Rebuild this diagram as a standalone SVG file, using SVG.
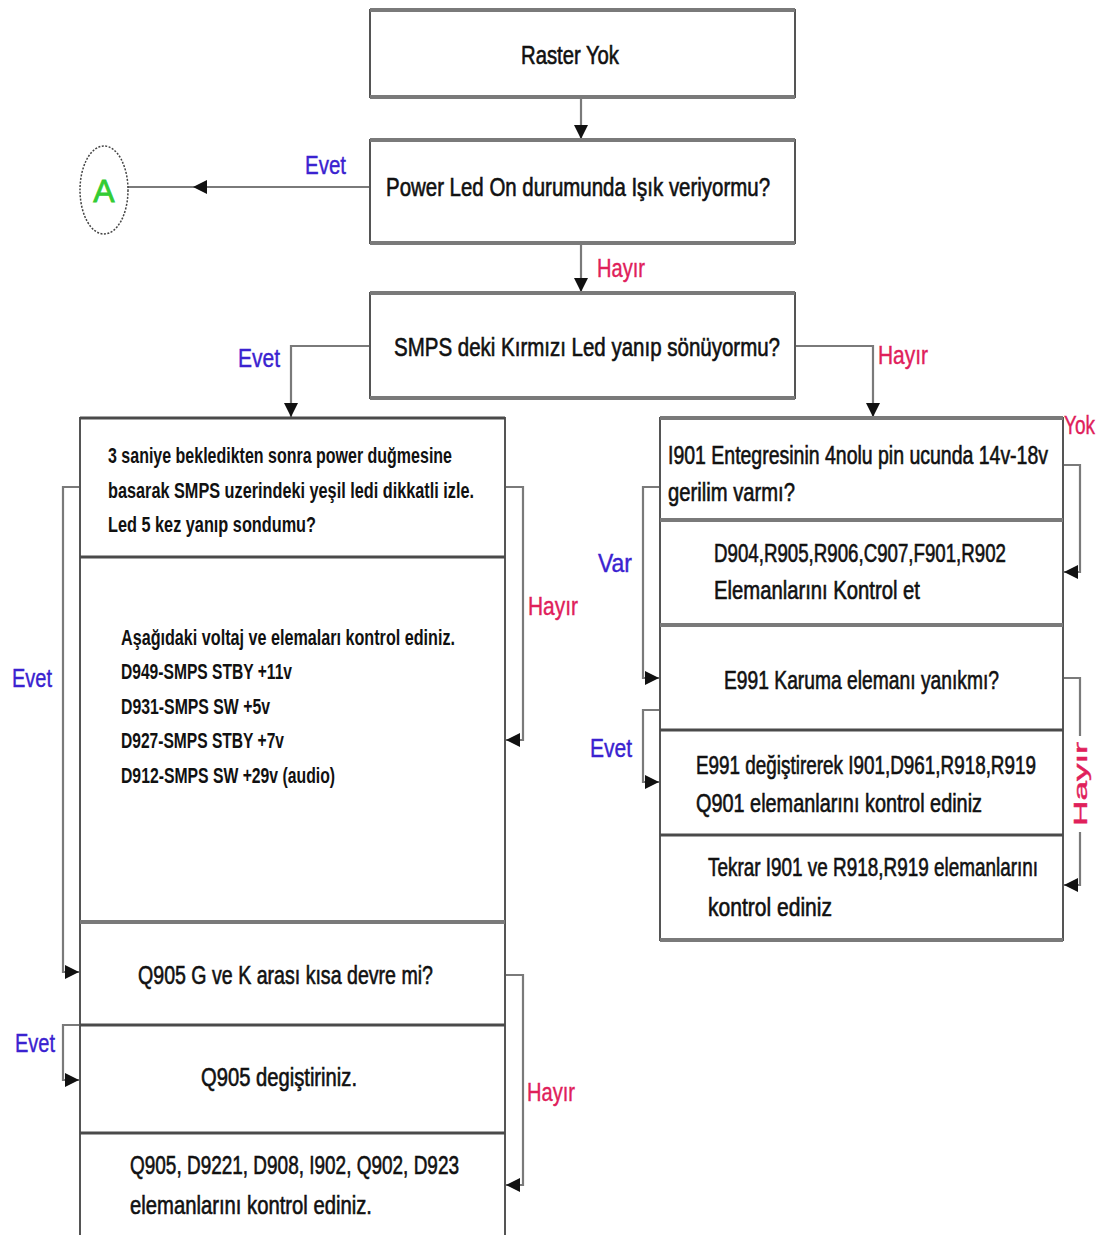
<svg xmlns="http://www.w3.org/2000/svg" width="1099" height="1235" viewBox="0 0 1099 1235">
  <defs>
    <style>
      .box { fill: #ffffff; stroke: #555555; stroke-width: 2; }
      .edge { stroke: #7a7a7a; stroke-width: 4; }
      .div { stroke: #4a4a4a; stroke-width: 3; }
      .t { font-family: "Liberation Sans", Arial, sans-serif; font-size: 25px; fill: #111111; stroke: #111111; stroke-width: 0.6; }
      .s { font-family: "Liberation Sans", Arial, sans-serif; font-size: 22px; fill: #111111; font-weight: bold; }
      .yes { font-family: "Liberation Sans", Arial, sans-serif; font-size: 25px; fill: #3a22d0; stroke: #3a22d0; stroke-width: 0.4; }
      .no { font-family: "Liberation Sans", Arial, sans-serif; font-size: 25px; fill: #e0205a; stroke: #e0205a; stroke-width: 0.4; }
      .no.vert { font-size: 18px; }
      .wire { fill: none; stroke: #7a7a7a; stroke-width: 2.2; }
    </style>
    <marker id="arr" viewBox="0 0 10 10" refX="10" refY="5" markerWidth="14" markerHeight="14" markerUnits="userSpaceOnUse" orient="auto">
      <path d="M0,0 L10,5 L0,10 Z" fill="#111111"/>
    </marker>
  </defs>

  <!-- connectors -->
  <g id="connectors">
    <line class="wire" x1="581" y1="97" x2="581" y2="139" marker-end="url(#arr)"/>
    <line class="wire" x1="370" y1="187" x2="128" y2="187"/>
    <line class="wire" x1="300" y1="187" x2="193" y2="187" marker-end="url(#arr)"/>
    <line class="wire" x1="581" y1="243" x2="581" y2="292" marker-end="url(#arr)"/>
    <path class="wire" d="M370,346 H291 V417" marker-end="url(#arr)"/>
    <path class="wire" d="M795,346 H873 V417" marker-end="url(#arr)"/>
    <!-- left column -->
    <path class="wire" d="M80,487 H63 V972 H79" marker-end="url(#arr)"/>
    <path class="wire" d="M80,1025 H63 V1080 H79" marker-end="url(#arr)"/>
    <path class="wire" d="M505,487 H523 V740 H506" marker-end="url(#arr)"/>
    <path class="wire" d="M505,975 H523 V1185 H506" marker-end="url(#arr)"/>
    <!-- right column -->
    <path class="wire" d="M1063,465 H1080 V572 H1064" marker-end="url(#arr)"/>
    <path class="wire" d="M1063,678 H1080 V736"/>
    <path class="wire" d="M1080,832 V885 H1064" marker-end="url(#arr)"/>
    <path class="wire" d="M660,487 H643 V678 H659" marker-end="url(#arr)"/>
    <path class="wire" d="M660,710 H643 V782 H659" marker-end="url(#arr)"/>

    <text class="yes" x="305" y="174" textLength="41" lengthAdjust="spacingAndGlyphs">Evet</text>
    <text class="no" x="597" y="277" textLength="48" lengthAdjust="spacingAndGlyphs">Hayır</text>
    <text class="yes" x="238" y="367" textLength="42" lengthAdjust="spacingAndGlyphs">Evet</text>
    <text class="no" x="878" y="364" textLength="50" lengthAdjust="spacingAndGlyphs">Hayır</text>
    <text class="yes" x="12" y="687" textLength="40" lengthAdjust="spacingAndGlyphs">Evet</text>
    <text class="no" x="528" y="615" textLength="50" lengthAdjust="spacingAndGlyphs">Hayır</text>
    <text class="yes" x="15" y="1052" textLength="40" lengthAdjust="spacingAndGlyphs">Evet</text>
    <text class="no" x="527" y="1101" textLength="48" lengthAdjust="spacingAndGlyphs">Hayır</text>
    <text class="yes" x="598" y="572" textLength="34" lengthAdjust="spacingAndGlyphs">Var</text>
    <text class="yes" x="590" y="757" textLength="42" lengthAdjust="spacingAndGlyphs">Evet</text>
    <text class="no" x="1064" y="434" textLength="31" lengthAdjust="spacingAndGlyphs">Yok</text>
    <text class="no vert" transform="translate(1087,826) rotate(-90)" x="0" y="0" textLength="84" lengthAdjust="spacingAndGlyphs">Hayır</text>
  </g>

  <!-- start -->
  <g id="raster-yok">
    <rect class="box" x="370" y="10" width="425" height="87"/>
    <line class="edge" x1="370" y1="10" x2="795" y2="10"/>
    <line class="edge" x1="370" y1="97" x2="795" y2="97"/>
    <text class="t" x="521" y="64" textLength="98" lengthAdjust="spacingAndGlyphs">Raster Yok</text>
  </g>

  <!-- power led question -->
  <g id="power-led">
    <rect class="box" x="370" y="140" width="425" height="103"/>
    <line class="edge" x1="370" y1="140" x2="795" y2="140"/>
    <line class="edge" x1="370" y1="243" x2="795" y2="243"/>
    <text class="t" x="386" y="196" textLength="384" lengthAdjust="spacingAndGlyphs">Power Led On durumunda Işık veriyormu?</text>
  </g>

  <!-- connector A -->
  <g id="node-a">
    <ellipse cx="104" cy="190" rx="24" ry="44" fill="#ffffff" stroke="#444444" stroke-width="1.5" stroke-dasharray="2 1.5"/>
    <text x="104" y="202" text-anchor="middle" font-family="Liberation Sans, Arial, sans-serif" font-size="32" fill="#33cc33" stroke="#33cc33" stroke-width="0.8">A</text>
  </g>

  <!-- SMPS red led question -->
  <g id="smps-led">
    <rect class="box" x="370" y="293" width="425" height="105"/>
    <line class="edge" x1="370" y1="293" x2="795" y2="293"/>
    <line class="edge" x1="370" y1="398" x2="795" y2="398"/>
    <text class="t" x="394" y="356" textLength="386" lengthAdjust="spacingAndGlyphs">SMPS deki Kırmızı Led yanıp sönüyormu?</text>
  </g>

  <!-- left column -->
  <g id="left-column">
    <rect class="box" x="80" y="418" width="425" height="830"/>
    <line class="div" x1="80" y1="418" x2="505" y2="418"/>
    <line class="div" x1="80" y1="557" x2="505" y2="557"/>
    <line class="edge" x1="80" y1="922" x2="505" y2="922"/>
    <line class="div" x1="80" y1="1025" x2="505" y2="1025"/>
    <line class="div" x1="80" y1="1133" x2="505" y2="1133"/>
  </g>
  <g id="green-led-check">
    <text class="s" x="108" y="463" textLength="344" lengthAdjust="spacingAndGlyphs">3 saniye bekledikten sonra power duğmesine</text>
    <text class="s" x="108" y="498" textLength="366" lengthAdjust="spacingAndGlyphs">basarak SMPS uzerindeki yeşil ledi dikkatli izle.</text>
    <text class="s" x="108" y="532" textLength="208" lengthAdjust="spacingAndGlyphs">Led 5 kez yanıp sondumu?</text>
  </g>
  <g id="voltage-check">
    <text class="s" x="121" y="645" textLength="334" lengthAdjust="spacingAndGlyphs">Aşağıdaki voltaj ve elemaları kontrol ediniz.</text>
    <text class="s" x="121" y="679" textLength="171" lengthAdjust="spacingAndGlyphs">D949-SMPS STBY +11v</text>
    <text class="s" x="121" y="714" textLength="149" lengthAdjust="spacingAndGlyphs">D931-SMPS SW +5v</text>
    <text class="s" x="121" y="748" textLength="163" lengthAdjust="spacingAndGlyphs">D927-SMPS STBY +7v</text>
    <text class="s" x="121" y="783" textLength="214" lengthAdjust="spacingAndGlyphs">D912-SMPS SW +29v (audio)</text>
  </g>
  <g id="q905-short">
    <text class="t" x="138" y="984" textLength="295" lengthAdjust="spacingAndGlyphs">Q905 G ve K arası kısa devre mi?</text>
  </g>
  <g id="q905-replace">
    <text class="t" x="201" y="1086" textLength="156" lengthAdjust="spacingAndGlyphs">Q905 degiştiriniz.</text>
  </g>
  <g id="q905-parts">
    <text class="t" x="130" y="1174" textLength="329" lengthAdjust="spacingAndGlyphs">Q905, D9221, D908, I902, Q902, D923</text>
    <text class="t" x="130" y="1214" textLength="242" lengthAdjust="spacingAndGlyphs">elemanlarını kontrol ediniz.</text>
  </g>

  <!-- right column -->
  <g id="right-column">
    <rect class="box" x="660" y="418" width="403" height="522"/>
    <line class="edge" x1="660" y1="418" x2="1063" y2="418"/>
    <line class="edge" x1="660" y1="520" x2="1063" y2="520"/>
    <line class="edge" x1="660" y1="625" x2="1063" y2="625"/>
    <line class="div" x1="660" y1="730" x2="1063" y2="730"/>
    <line class="div" x1="660" y1="835" x2="1063" y2="835"/>
    <line class="edge" x1="660" y1="940" x2="1063" y2="940"/>
  </g>
  <g id="i901-voltage">
    <text class="t" x="668" y="464" textLength="380" lengthAdjust="spacingAndGlyphs">I901 Entegresinin 4nolu pin ucunda 14v-18v</text>
    <text class="t" x="668" y="501" textLength="127" lengthAdjust="spacingAndGlyphs">gerilim varmı?</text>
  </g>
  <g id="d904-parts">
    <text class="t" x="714" y="562" textLength="292" lengthAdjust="spacingAndGlyphs">D904,R905,R906,C907,F901,R902</text>
    <text class="t" x="714" y="599" textLength="206" lengthAdjust="spacingAndGlyphs">Elemanlarını Kontrol et</text>
  </g>
  <g id="e991-burnt">
    <text class="t" x="724" y="689" textLength="275" lengthAdjust="spacingAndGlyphs">E991 Karuma elemanı yanıkmı?</text>
  </g>
  <g id="e991-replace">
    <text class="t" x="696" y="774" textLength="340" lengthAdjust="spacingAndGlyphs">E991 değiştirerek I901,D961,R918,R919</text>
    <text class="t" x="696" y="812" textLength="286" lengthAdjust="spacingAndGlyphs">Q901 elemanlarını kontrol ediniz</text>
  </g>
  <g id="i901-recheck">
    <text class="t" x="708" y="876" textLength="330" lengthAdjust="spacingAndGlyphs">Tekrar I901 ve R918,R919 elemanlarını</text>
    <text class="t" x="708" y="916" textLength="124" lengthAdjust="spacingAndGlyphs">kontrol ediniz</text>
  </g>
</svg>
